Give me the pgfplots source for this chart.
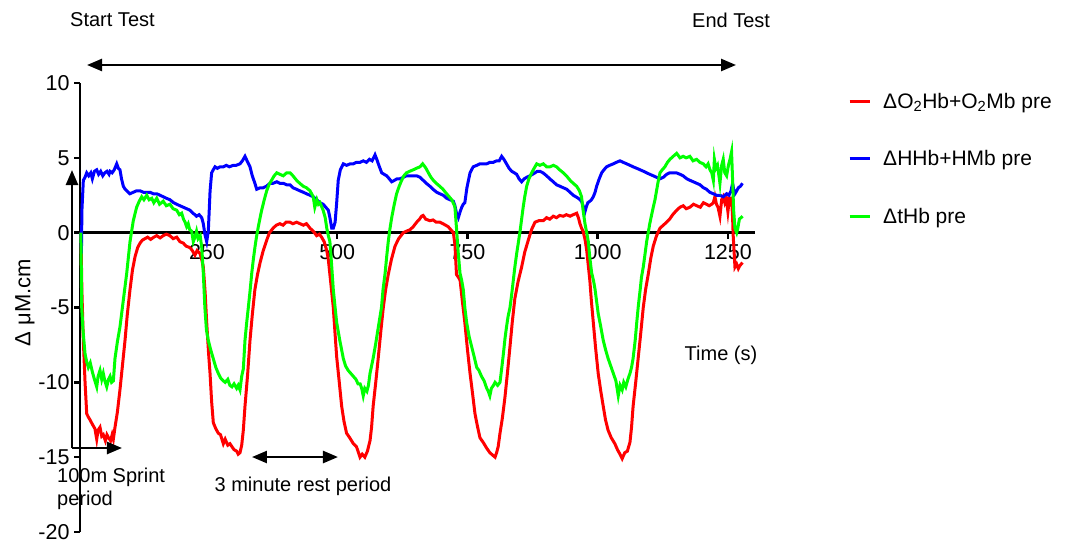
\documentclass[border=0pt]{standalone}
\usepackage{pgfplots}
\pgfplotsset{compat=1.18}
\usepackage{pgfplotstable}
\usepackage{fontspec}
\setmainfont{Liberation Sans}
\usetikzlibrary{arrows.meta}

\pgfplotstableread{
x y
8 0
10 -4
12.7 -7.2
16 -10
19.2 -12.1
22 -12.3
25.5 -12.5
30 -12.8
35 -13.1
38.4 -13.8
41 -13.2
44.7 -13.0
48 -13.6
51 -13.5
55 -13.9
58 -13.5
61 -13.7
65 -13.9
68 -13.5
70.3 -13.8
73.5 -13.0
78 -12
83 -10.5
88 -8.8
92.7 -7.2
97 -5.5
102.3 -3.8
107 -2.5
112 -1.6
117 -1.0
121.5 -0.7
126 -0.5
131 -0.4
136 -0.3
142 -0.45
148 -0.3
153.6 -0.2
160 -0.35
166 -0.2
172 -0.1
179 -0.2
185 -0.4
192 -0.3
198 -0.6
204.6 -0.7
210 -0.9
217.5 -1.0
222 -1.2
227 -1.5
231 -1.2
236.7 -1.4
240 -1.8
243 -2.3
246.5 -4
249.5 -6
253 -8
255.9 -9.4
259 -11.3
262.2 -12.7
267 -13.1
271.8 -13.4
276 -13.5
281.4 -14.1
285 -13.8
290 -14.2
294.2 -14.1
298 -14.3
302 -14.5
307.1 -14.6
310 -14.8
313.4 -14.7
316.7 -14.2
319.8 -13.2
323 -11.6
328 -9.5
332.6 -7.2
337 -5.5
342 -3.8
347 -2.8
352 -2.0
358 -1.2
364.7 -0.5
370 0
377 0.3
383 0.5
390 0.6
396 0.5
402 0.7
409 0.7
415 0.6
422 0.7
428.6 0.6
435 0.5
441 0.6
447.8 0.3
454 0.1
460.6 -0.2
466 -0.1
470 -0.3
475 -0.6
480 -1.2
483 -1.8
486 -2.8
489 -3.8
492.5 -5
496 -6.8
499 -8.3
504 -10
508.6 -11.6
513 -12.6
518 -13.4
524 -13.7
531 -14.1
537 -14.3
543.8 -15.0
548 -14.8
553 -15.0
558 -14.6
563 -13.9
566 -13
569 -11.6
574 -10
579 -8.3
584 -6.5
588.5 -5
593 -3.8
598 -2.8
604 -1.8
611 -0.9
618 -0.4
627 0
633 0.1
640 0.2
646 0.4
652.6 0.7
658 0.9
662 1.1
665 1.15
670 0.9
678 0.8
684 0.85
690 0.7
697 0.7
703 0.6
708 0.5
713 0.4
718 0.2
723 0
726 -0.8
729 -2.8
733 -3.0
736 -3.2
740 -4.5
745 -6
750 -7.8
755 -9.4
760 -10.8
764.5 -12.1
769 -12.9
774 -13.7
780 -14.0
787 -14.4
793 -14.7
799.6 -14.9
803 -15.0
806 -14.7
809 -14.3
812.5 -13.4
817 -12.4
822 -11
827 -9.3
831.7 -7.6
836 -6
841 -4.4
847 -3.3
854 -2.3
860 -1.3
866.8 -0.5
873 0.2
879.7 0.7
887 0.8
895.6 0.8
902 1.0
908 0.9
914.8 1.1
921 1.0
927 1.15
934 1.1
940 1.2
947 1.1
953 1.2
959.7 1.3
963 1.0
966 0.6
969 0.3
972 0.1
976 -0.5
979 -1.2
982 -2.2
985 -3.2
988 -4.6
991.6 -6
996 -7.7
1001 -9.4
1006 -10.6
1010.7 -11.6
1015 -12.5
1020 -13.2
1026 -13.7
1033 -14.1
1038 -14.5
1042.8 -14.8
1047 -15.1
1052 -14.7
1057 -14.6
1062 -14.0
1065 -13.0
1068 -11.6
1073 -10
1078 -8.3
1083 -6.6
1087.5 -5
1092 -3.8
1097 -2.8
1102 -1.7
1106.7 -0.9
1113 -0.2
1119.6 0.3
1126 0.5
1132.4 0.7
1138 0.9
1144 1.2
1151.6 1.5
1158 1.7
1164.3 1.8
1170 1.6
1177 1.7
1184 1.9
1190 1.8
1197 1.7
1203 2.0
1209 1.9
1214 1.8
1218.8 1.9
1222 2.0
1225 2.4
1228 1.9
1231 1.7
1234.7 1.1
1238 2.2
1241 2.4
1244 2.0
1247 2.3
1250 1.4
1253 2.3
1257 2.3
1259 1.0
1260 -0.1
1263.5 -2.3
1266.8 -2.1
1270 -2.4
1273 -2.2
1278 -2.0
}\redtable

\pgfplotstableread{
x y
8 0
9 -1.4
10 1.5
12.7 3.5
16 3.7
19.2 4.0
23 3.8
27 4.0
30 3.6
34 4.1
38.4 4.2
42 3.9
46 4.1
50 3.8
54 4.0
58 4.1
62 3.9
64 4.1
68 4.0
72 4.2
76.8 4.6
80 4.3
83 4.2
86 3.6
89.5 3.1
93 2.9
96 2.8
102 2.6
108.6 2.7
115 2.8
121.5 2.8
128 2.7
134 2.7
140.7 2.7
147 2.6
153.6 2.6
160 2.5
166 2.4
172 2.3
179 2.2
186 2.0
192 1.9
198 1.8
204.6 1.7
211 1.6
217.5 1.5
223 1.3
227 1.2
230 1.1
235 1.2
240 1.0
243 0.6
246 -0.1
249.5 -0.6
252.6 0.1
256 2.8
259 4.0
262 4.2
265.5 4.4
270 4.3
275 4.4
281.4 4.4
287 4.5
293 4.4
300.6 4.5
306 4.5
313.4 4.6
318 4.8
323 5.1
327 4.8
332.6 4.4
337 3.8
342 3.3
345.5 2.9
352 3.0
358 3.0
364 3.1
371 3.3
377 3.3
384 3.4
390 3.3
396.5 3.3
403 3.2
409.4 3.2
415 3.0
422 2.9
428 2.8
435 2.7
441 2.6
447.8 2.5
454 2.4
460.6 2.2
467 2.0
473 1.9
478 1.7
483 1.5
486 1.0
489.5 0.3
492.5 0.3
496 0.7
499 2.0
502 3.5
506 4.2
511.7 4.6
518 4.5
525 4.6
531 4.6
537 4.7
544 4.7
550 4.8
556 4.7
562 4.9
567 4.8
572.6 5.2
576 4.9
580 4.5
585.4 4.0
590 3.9
595 3.8
600 3.6
604.6 3.4
610 3.5
615 3.6
620.5 3.6
627 3.7
633 3.8
640 3.8
646 3.8
652.6 3.8
659 3.7
665 3.5
671 3.3
678 3.1
684 2.9
691 2.7
697 2.6
703.6 2.5
710 2.3
716.5 2.2
723 2.1
726 1.8
729 1.3
732.5 1.0
736 1.4
739 1.7
742 1.9
745 2.0
749 3.0
755 4.0
761 4.4
768 4.5
774 4.6
780.4 4.6
787 4.6
793 4.7
799.6 4.7
806 4.8
811 4.8
815.7 5.1
820 4.9
825 4.6
830 4.3
835 4.1
840 4.0
844.5 3.9
849 3.6
854 3.4
859 3.6
863.7 3.7
870 3.8
875 3.9
879.7 4.0
884 4.1
889.3 4.1
895 4.0
902 3.8
908 3.6
914.8 3.4
921 3.2
927.7 3.1
934 3.0
940.5 2.9
947 2.7
953 2.5
958 2.4
962.8 2.3
966 2.2
969 2.1
972 1.8
975.6 1.4
978 1.7
981 2.0
985 2.1
988 2.2
991.6 2.4
995 2.7
998 3.1
1003 3.6
1007.7 4.0
1012 4.2
1017 4.4
1023 4.5
1030 4.6
1036 4.7
1042.8 4.8
1049 4.7
1055.6 4.6
1062 4.5
1068 4.4
1075 4.3
1081.6 4.2
1088 4.1
1094 4.0
1100 3.9
1106.7 3.8
1113 3.7
1119.6 3.6
1126 3.7
1132.4 3.9
1138 4.0
1145 4.0
1151 4.0
1158 3.9
1164 3.8
1171 3.6
1177 3.5
1183.5 3.4
1190 3.3
1196.4 3.2
1203 3.0
1209 2.9
1215 2.7
1222 2.6
1228 2.5
1234.7 2.5
1241 2.4
1247.5 2.6
1252 2.5
1256 2.8
1259 3.3
1261 2.9
1263.5 2.6
1267 2.8
1270 3.0
1274 3.1
1278 3.3
}\bluetable

\pgfplotstableread{
x y
8 0
9.6 -5
12 -6.5
16 -8.1
19 -8.6
22.3 -9.0
26 -8.7
30 -9.3
34 -9.8
38.4 -10.3
41 -9.6
44.7 -9.2
48 -9.8
51 -9.4
54 -9.9
57.6 -10.3
61 -9.8
64 -9.6
67 -10.0
70.3 -9.9
73.5 -8.4
78 -7.3
83 -6.3
89.5 -4.5
96 -2.7
102.3 -0.6
108.6 0.8
115 1.7
120 2.1
124.8 2.4
129 2.2
134.4 2.5
139 2.2
144 2.3
148 2.0
153.6 2.3
159 1.9
166 2.1
172 1.8
179 1.9
185 1.6
192 1.5
197 1.2
201.5 1.3
205 0.9
208 0.7
211 0.4
214 0.6
217 0.2
220.7 0.1
223.8 -0.6
227 -0.3
230 0.1
233 -0.4
237 -0.2
240 -1
243 -2.7
246 -5
249 -6.5
252.6 -7.2
257 -7.8
262 -8.4
267 -9.0
271.8 -9.4
276 -9.7
281.4 -9.9
285 -10.0
290 -9.8
294 -10.2
298 -10.3
302 -10.1
307 -10.4
310 -10.2
313.4 -10.5
316.7 -9.6
319.8 -9.1
323 -7.2
326 -6.1
329.4 -5
333 -3.8
336 -2.7
339 -1.8
342 -1
345 -0.3
348.6 0.4
352 1.0
355 1.5
360 2.2
364.7 2.8
369 3.2
374 3.5
379 3.8
384 4.0
390 3.9
396.5 3.8
403 4.0
409.4 4.0
415 3.8
422 3.5
428 3.3
435 3.1
441 3.0
447.8 2.8
454 2.4
457 1.7
461 2.2
464 1.9
467 2.0
473 1.5
477 1.0
480 0.3
483 -0.2
486 -0.6
489 -2
492.5 -3.8
496 -5
499 -6
505 -7.2
511.7 -8.4
516 -8.9
521 -9.2
526 -9.4
531 -9.6
536 -9.8
540 -10.1
544 -10.1
547 -10.4
550 -10.9
553 -10.4
557 -10.6
560 -10.2
563 -9.4
569 -8.4
574 -7.4
579 -6.3
585 -5
588 -3.8
592 -2.7
595 -1.6
598 -0.6
601 0.2
604.6 1.0
609 1.8
614 2.6
619 3.1
623.8 3.5
628 3.8
633 4.0
639 4.1
646 4.2
652 4.3
659 4.4
664 4.6
668.5 4.4
672 4.2
675 4.0
680 3.7
684.5 3.5
690 3.3
697 3.1
703 2.9
710 2.6
715 2.4
719.8 2.2
724 1.9
726 1.7
729 0.3
732 -1.2
735.7 -2.7
739 -3.2
742 -3.8
745 -5
748.5 -6
753 -6.9
758 -7.6
763 -8.3
767.8 -9.0
772 -9.2
777 -9.6
782 -9.9
787 -10.4
790 -10.6
793 -10.9
796 -10.4
800 -10.2
803 -10.0
808 -10.2
812.5 -10.0
816 -9.0
819 -8.1
822 -7.1
825 -6.3
828 -5.6
831.7 -5
835 -4.1
838 -3.2
841 -2.3
844.5 -1.4
848 -0.6
851 0.1
854 0.9
857 1.7
860 2.4
863.7 3.1
868 3.6
873.3 4.0
878 4.3
883 4.6
889 4.5
895.6 4.6
902 4.4
908.5 4.4
915 4.5
921 4.4
927 4.2
934 4.0
940 3.8
947 3.5
953 3.3
959.7 3.1
965 2.8
969 2.4
972 1.5
975.6 0.6
979 0
982 -0.6
985 -1.7
988.5 -2.7
992 -3.2
995 -3.8
998 -4.6
1001 -5.4
1006 -6.3
1010.7 -7.2
1015 -7.8
1020 -8.4
1025 -8.9
1030 -9.4
1035 -9.9
1039.5 -10.9
1043 -10.2
1047 -10.5
1050 -10.0
1054 -10.3
1058 -9.8
1062 -9.4
1065 -9.0
1068 -8.4
1072 -7.2
1075 -6
1078 -4.9
1081.6 -3.8
1084 -3.0
1087.5 -2.3
1091 -1.4
1094 -0.6
1097 0
1100 0.6
1103 1.1
1106.7 1.7
1110 2.2
1113 2.8
1116 3.4
1119.6 4.0
1124 4.2
1129 4.4
1134 4.7
1138.7 4.9
1145 5.1
1151.6 5.3
1158 5.0
1164 5.1
1170 5.0
1177 5.1
1183 4.8
1190 4.9
1196 4.7
1202.7 4.6
1208 4.4
1212 4.6
1215.5 4.2
1219 4.0
1222 3.5
1224 4.9
1227 4.3
1230 4.5
1234.7 3.3
1238 4.5
1241 4.9
1244 4.0
1247.5 3.8
1251 4.5
1254 4.9
1257 5.4
1259 3.5
1261 1.5
1263.5 0.3
1266.8 0
1269 0.3
1272 0.9
1275 1.0
1278 1.1
}\greentable

\begin{document}
\begin{tikzpicture}
\path[use as bounding box] (-80pt,-10pt) rectangle (987pt,532pt);
\begin{axis}[
  scale only axis,
  width=675pt, height=449pt,
  xmin=6.3, xmax=1302, ymin=-20, ymax=10,
  axis x line=middle, axis y line=left,
  axis line style={-, line width=2.5pt},
  tick align=outside,
  major tick length=6pt,
  every tick/.style={black, line width=2.5pt},
  xtick={250,500,750,1000,1250},
  ytick={-20,-15,-10,-5,0,5,10},
  /pgf/number format/assume math mode=true,
  /pgf/number format/set thousands separator={},
  ticklabel style={font=\fontsize{21.5}{24}\selectfont},
  yticklabel style={xshift=-1pt},
  xticklabel style={yshift=-2pt},
  clip=false,
  legend cell align=left,
  legend image code/.code={\draw[#1, line width=3pt] (0pt,0pt) -- (20pt,0pt);},
  legend style={at={(axis description cs:1.1378,0.983)}, anchor=north west,
    draw=none, fill=none, inner sep=0pt, row sep=37pt,
    font=\fontsize{21}{24}\selectfont,
    nodes={inner sep=2pt}},
  /tikz/every odd column/.append style={column sep=10pt},
]
\addplot[red, line width=3pt] table[x=x,y=y] {\redtable};
\addlegendentry{ΔO\textsubscript{2}Hb+O\textsubscript{2}Mb pre}
\addplot[blue, line width=3pt] table[x=x,y=y] {\bluetable};
\addlegendentry{ΔHHb+HMb pre}
\addplot[green, line width=3pt] table[x=x,y=y] {\greentable};
\addlegendentry{ΔtHb pre}

\def\fs{\fontsize{20}{23}\selectfont}
\node[anchor=west, inner sep=0pt, font=\fs] at (axis description cs:-0.0148,1.1403) {Start Test};
\node[anchor=west, inner sep=0pt, font=\fs] at (axis description cs:0.9067,1.1403) {End Test};
\draw[line width=2.5pt, {Triangle[length=15pt,width=12pt]}-{Triangle[length=15pt,width=12pt]}]
  (axis description cs:0.0104,1.0401) -- (axis description cs:0.9719,1.0401);
\draw[line width=2.5pt, -{Triangle[length=15pt,width=12pt]}]
  (axis description cs:-0.01185,0.1871) -- (axis description cs:-0.01185,0.8062);
\draw[line width=2.5pt, -{Triangle[length=15pt,width=12pt]}]
  (axis description cs:-0.01185,0.1871) -- (axis description cs:0.0622,0.1871);
\node[anchor=north west, inner sep=0pt, align=left, font=\fontsize{20}{23}\selectfont] at (axis description cs:-0.0341,0.1425) {100m Sprint\\period};
\draw[line width=2.5pt, {Triangle[length=15pt,width=12pt]}-{Triangle[length=15pt,width=12pt]}]
  (axis description cs:0.2548,0.167) -- (axis description cs:0.3822,0.167);
\node[inner sep=0pt, font=\fs] at (axis description cs:0.3304,0.1024) {3 minute rest period};
\node[inner sep=0pt, font=\fs] at (axis description cs:0.9496,0.3942) {Time (s)};
\node[inner sep=0pt, rotate=90, font=\fontsize{22}{24}\selectfont] at (axis description cs:-0.0815,0.511) {Δ μM.cm};
\end{axis}
\end{tikzpicture}
\end{document}
